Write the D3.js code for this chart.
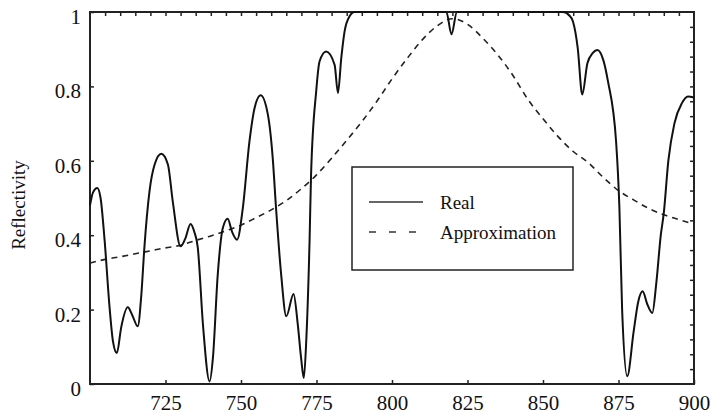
<!DOCTYPE html>
<html>
<head>
<meta charset="utf-8">
<script src="https://cdn.jsdelivr.net/npm/d3@7"></script>
<style>
  body { margin: 0; background: #fff; }
  svg text { font-family: "Liberation Serif", "DejaVu Serif", serif !important; }
</style>
</head>
<body>
<div class="chart"></div>
<script>
// wavelength (nm) and reflectivity of the real curve
const realWave = [700, 701, 702.4, 703.5, 704.8, 706.5, 707.6, 708.9, 710.3, 712.5, 714, 715.8, 717, 718,
  719.7, 721.4, 723.6, 725.8, 727.4, 730, 731.5, 733.3, 734.5, 735.7, 737.4, 739.6, 740.7, 742.3, 744,
  745.6, 747, 748.7, 750.6, 752.8, 754.5, 756.5, 758.9, 760.5, 761.6, 763.3, 765, 767.4, 768.8, 769.9,
  770.8, 771.6, 772.7, 773.2, 774.9, 776, 778.2, 781, 782.1, 783.2, 784.3, 785.9, 787.6, 818, 819.7,
  821.5, 856.6, 858.8, 859.9, 861.5, 863, 864.7, 866.5, 868, 870, 871.5, 874.2, 875.3, 876.2, 877.9,
  880, 881.5, 883, 884.5, 886.2, 887.5, 889, 890, 891.5, 893.5, 896, 898, 900];
const realR = [0.48, 0.515, 0.527, 0.5, 0.39, 0.204, 0.115, 0.083, 0.151, 0.206, 0.185, 0.155, 0.24, 0.366,
  0.518, 0.59, 0.619, 0.59, 0.491, 0.37, 0.39, 0.43, 0.41, 0.366, 0.16, 0.007, 0.07, 0.294, 0.42,
  0.444, 0.41, 0.388, 0.473, 0.652, 0.742, 0.776, 0.724, 0.608, 0.473, 0.294, 0.182, 0.242, 0.16, 0.07,
  0.016, 0.115, 0.384, 0.563, 0.787, 0.867, 0.894, 0.858, 0.782, 0.876, 0.948, 0.988, 1.0, 1.0, 0.94,
  1.0, 1.0, 0.99, 0.975, 0.903, 0.778, 0.862, 0.89, 0.898, 0.87, 0.814, 0.652, 0.473, 0.2, 0.021,
  0.14, 0.22, 0.249, 0.215, 0.191, 0.27, 0.4, 0.46, 0.6, 0.7, 0.755, 0.773, 0.77];

// approximation curve
const approxWave = [700, 705, 710, 715, 720, 725, 730, 735, 740, 745, 750, 755, 760, 765, 770, 775, 780,
  785, 790, 795, 800, 805, 810, 815, 820, 825, 830, 835, 840, 845, 850, 855, 860, 865, 870, 875, 880,
  885, 890, 895, 900];
const approxR = [0.325, 0.335, 0.342, 0.35, 0.358, 0.366, 0.373, 0.386, 0.398, 0.412, 0.427, 0.447, 0.468,
  0.493, 0.525, 0.562, 0.607, 0.655, 0.705, 0.76, 0.82, 0.875, 0.925, 0.963, 0.982, 0.967, 0.93, 0.885,
  0.83, 0.765, 0.713, 0.665, 0.625, 0.595, 0.555, 0.52, 0.495, 0.472, 0.455, 0.442, 0.43];

const xTicks = [725, 750, 775, 800, 825, 850, 875, 900];
const yTicks = [0, 0.2, 0.4, 0.6, 0.8, 1];
const legendLabels = ["Real", "Approximation"];

const margin = { top: 12, right: 24, left: 90 };
const width = 718 - margin.left - margin.right;
const plotH = 372;

const svg = d3.select(".chart").append("svg")
  .attr("width", 718)
  .attr("height", 419);
const g = svg.append("g")
  .attr("transform", "translate(" + margin.left + "," + margin.top + ")");

const x = d3.scaleLinear().domain([700, 900]).range([0, width]);
const y = d3.scaleLinear().domain([0, 1]).range([plotH, 0]);

// minor ticks on top and right, major on bottom and left, all pointing inward
g.append("g")
  .attr("transform", "translate(0," + plotH + ")")
  .call(d3.axisBottom(x).tickValues(xTicks).tickSize(-4).tickPadding(11).tickFormat(d3.format("d")))
  .call(a => a.select(".domain").remove())
  .call(a => a.selectAll("text").attr("font-size", 21).attr("fill", "#111"));

g.append("g")
  .call(d3.axisLeft(y).tickValues(yTicks).tickSize(-4).tickPadding(9).tickFormat(d => d === 0 || d === 1 ? d : d3.format(".1f")(d)))
  .call(a => a.select(".domain").remove())
  .call(a => a.selectAll("text").attr("font-size", 21).attr("fill", "#111").attr("dy", "0.55em"));

g.append("g")
  .call(d3.axisTop(x).tickValues(d3.range(705, 900, 5)).tickSize(-4).tickFormat(""))
  .call(a => a.select(".domain").remove());

g.append("g")
  .attr("transform", "translate(" + width + ",0)")
  .call(d3.axisRight(y).tickValues(d3.range(1, 25).map(i => i * 0.04)).tickSize(-4).tickFormat(""))
  .call(a => a.select(".domain").remove());

g.selectAll(".tick line").attr("stroke", "#222").attr("stroke-width", 1.5);

// frame
g.append("rect")
  .attr("width", width)
  .attr("height", plotH)
  .attr("fill", "none")
  .attr("stroke", "#222")
  .attr("stroke-width", 2);

const line = d3.line()
  .x(d => x(d[0]))
  .y(d => y(d[1]))
  .curve(d3.curveMonotoneX);

g.append("path")
  .datum(approxWave.map((w, i) => [w, approxR[i]]))
  .attr("fill", "none")
  .attr("stroke", "#222")
  .attr("stroke-width", 1.6)
  .attr("stroke-dasharray", "6,5")
  .attr("d", line);

g.append("path")
  .datum(realWave.map((w, i) => [w, realR[i]]))
  .attr("fill", "none")
  .attr("stroke", "#111")
  .attr("stroke-width", 2)
  .attr("d", line);

// y label
svg.append("text")
  .attr("transform", "translate(25,205) rotate(-90)")
  .attr("text-anchor", "middle")
  .attr("font-size", 19)
  .attr("fill", "#111")
  .text("Reflectivity");

// legend
const legend = svg.append("g").attr("transform", "translate(352,167)");
legend.append("rect")
  .attr("width", 221)
  .attr("height", 103)
  .attr("fill", "#fff")
  .attr("stroke", "#222")
  .attr("stroke-width", 1.5);
legendLabels.forEach((lab, i) => {
  const ly = 35 + i * 30;
  legend.append("line")
    .attr("x1", 17).attr("x2", 71)
    .attr("y1", ly).attr("y2", ly)
    .attr("stroke", "#333")
    .attr("stroke-width", 1.5)
    .attr("stroke-dasharray", i === 1 ? "7,13" : null);
  legend.append("text")
    .attr("x", 88)
    .attr("y", ly + 7)
    .attr("font-size", 19)
    .attr("fill", "#111")
    .text(lab);
});
</script>
</body>
</html>
